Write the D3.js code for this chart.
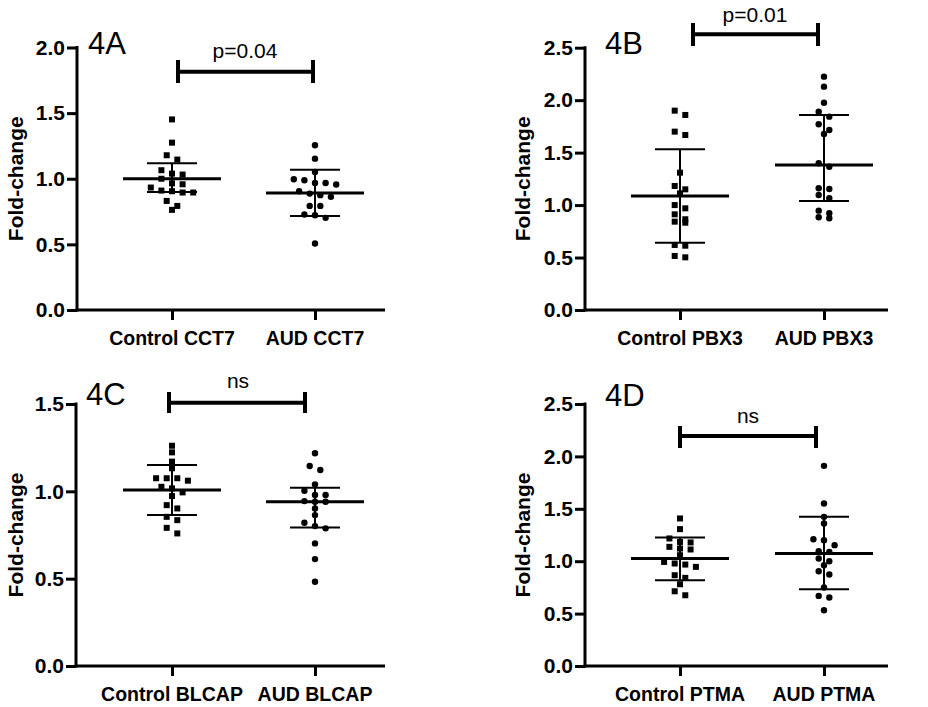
<!DOCTYPE html>
<html>
<head>
<meta charset="utf-8">
<script src="https://cdn.jsdelivr.net/npm/d3@7"></script>
<style>
  html, body { margin: 0; padding: 0; background: #fff; }
  svg { display: block; }
  text { font-family: "Liberation Sans", Arial, sans-serif; fill: #000; }
</style>
</head>
<body>
<svg id="chart" width="928" height="707"></svg>
<script>
// ---------------- DATA ----------------
const panelIds = ["4A", "4B", "4C", "4D"];
const categoriesA = ["Control CCT7", "AUD CCT7"];
const categoriesB = ["Control PBX3", "AUD PBX3"];
const categoriesC = ["Control BLCAP", "AUD BLCAP"];
const categoriesD = ["Control PTMA", "AUD PTMA"];
const pLabels = ["p=0.04", "p=0.01", "ns", "ns"];
const yMaxes = [2.0, 2.5, 1.5, 2.5];
const yTicksTop = [0, 0.5, 1.0, 1.5, 2.0];
const yTicksB = [0, 0.5, 1.0, 1.5, 2.0, 2.5];
const yTicksC = [0, 0.5, 1.0, 1.5];
const yTicksD = [0, 0.5, 1.0, 1.5, 2.0, 2.5];
const yLabel = "Fold-change";

const controlCCT7 = [1.452, 1.275, 1.179, 1.146, 1.065, 1.039, 1.032, 1.0, 0.965, 0.958, 0.933, 0.91, 0.905, 0.895, 0.895, 0.831, 0.793, 0.763];
const audCCT7 = [1.255, 1.153, 1.052, 0.996, 0.989, 0.968, 0.968, 0.956, 0.905, 0.887, 0.875, 0.862, 0.793, 0.793, 0.728, 0.722, 0.702, 0.507];
const controlPBX3 = [1.90, 1.859, 1.70, 1.668, 1.309, 1.182, 1.15, 1.112, 1.0, 0.969, 0.912, 0.865, 0.842, 0.832, 0.62, 0.613, 0.515, 0.502];
const audPBX3 = [2.224, 2.129, 1.976, 1.89, 1.843, 1.77, 1.716, 1.678, 1.398, 1.366, 1.16, 1.153, 1.096, 1.065, 0.947, 0.922, 0.884, 0.874];
const controlBLCAP = [1.261, 1.223, 1.170, 1.132, 1.075, 1.075, 1.075, 1.061, 1.026, 1.017, 0.994, 0.973, 0.921, 0.902, 0.854, 0.835, 0.791, 0.759];
const audBLCAP = [1.218, 1.145, 1.122, 1.04, 1.003, 0.979, 0.979, 0.944, 0.94, 0.94, 0.902, 0.864, 0.82, 0.801, 0.788, 0.702, 0.612, 0.482];
const controlPTMA = [1.408, 1.306, 1.217, 1.184, 1.179, 1.137, 1.121, 1.112, 1.057, 0.993, 0.978, 0.968, 0.946, 0.866, 0.841, 0.78, 0.713, 0.675];
const audPTMA = [1.91, 1.551, 1.423, 1.36, 1.21, 1.2, 1.153, 1.095, 1.089, 1.026, 1.0, 0.962, 0.904, 0.873, 0.749, 0.669, 0.653, 0.532];

// summary lines [control, AUD]
const centerA = [1.0, 0.891], lowA = [0.899, 0.716], highA = [1.119, 1.068];
const centerB = [1.087, 1.382], lowB = [0.642, 1.039], highB = [1.532, 1.859];
const centerC = [1.007, 0.94], lowC = [0.864, 0.793], highC = [1.151, 1.021];
const centerD = [1.026, 1.073], lowD = [0.818, 0.733], highD = [1.226, 1.423];

// ---------------- LAYOUT ----------------
const layouts = [
  { axisX: 77, xEnd: 385, y0: 310, yTop: 47.5, cats: [172, 315], br: { y: 71.7, x1: 178, x2: 313, t: 60, b: 83 }, pX: 245, pY: 58, lX: 88, lY: 54, ylX: 16 },
  { axisX: 585, xEnd: 888, y0: 310, yTop: 47.7, cats: [680, 824], br: { y: 34.3, x1: 693, x2: 818, t: 23, b: 46 }, pX: 755, pY: 21.7, lX: 605, lY: 54, ylX: 522.5 },
  { axisX: 76, xEnd: 385, y0: 666, yTop: 404, cats: [172, 315], br: { y: 402.7, x1: 169, x2: 305, t: 392, b: 413 }, pX: 238, pY: 388, lX: 86, lY: 405, ylX: 15.7 },
  { axisX: 585, xEnd: 888, y0: 666, yTop: 404, cats: [680, 824], br: { y: 436, x1: 680, x2: 816, t: 426, b: 448 }, pX: 748, pY: 423, lX: 605, lY: 406, ylX: 522.5 }
];

const panelCats = [categoriesA, categoriesB, categoriesC, categoriesD];
const panelTicks = [yTicksTop, yTicksB, yTicksC, yTicksD];
const panelValues = [[controlCCT7, audCCT7], [controlPBX3, audPBX3], [controlBLCAP, audBLCAP], [controlPTMA, audPTMA]];
const panelCenter = [centerA, centerB, centerC, centerD];
const panelLow = [lowA, lowB, lowC, lowD];
const panelHigh = [highA, highB, highC, highD];

const svg = d3.select("#chart");
const COL = 5.3, BIN = 6, SQ = 6, R = 3.2;

function swarm(values, y, cx) {
  const pts = values.map(v => ({ v, y: y(v) })).sort((a, b) => a.y - b.y);
  const rows = [];
  let cur = null;
  pts.forEach(p => {
    if (!cur || p.y - cur[0].y >= BIN) { cur = [p]; rows.push(cur); }
    else cur.push(p);
  });
  rows.forEach(r => {
    const n = r.length;
    r.forEach((p, i) => { p.x = cx + (i - (n - 1) / 2) * 2 * COL; });
  });
  return pts;
}

panelIds.forEach((id, pi) => {
  const L = layouts[pi];
  const g = svg.append("g");
  const y = d3.scaleLinear().domain([0, yMaxes[pi]]).range([L.y0, L.yTop]);
  const x = d3.scalePoint().domain(panelCats[pi]).range(L.cats);

  // y axis
  const yAxis = d3.axisLeft(y).tickValues(panelTicks[pi]).tickFormat(d3.format(".1f")).tickSize(10).tickSizeOuter(0);
  const ya = g.append("g").attr("transform", `translate(${L.axisX},0)`).call(yAxis);
  ya.select(".domain").remove();
  ya.selectAll(".tick line").attr("stroke", "#000").attr("stroke-width", 3);
  ya.selectAll(".tick text").attr("x", -12).attr("font-size", 21).attr("font-weight", "bold")
    .attr("font-family", "Liberation Sans, Arial, sans-serif").attr("fill", "#000");
  g.append("line").attr("x1", L.axisX).attr("x2", L.axisX).attr("y1", L.yTop - 1.5).attr("y2", L.y0 + 1.5)
    .attr("stroke", "#000").attr("stroke-width", 3);

  // x axis
  const xAxis = d3.axisBottom(x).tickSize(10).tickSizeOuter(0).tickFormat("");
  const xa = g.append("g").attr("transform", `translate(0,${L.y0})`).call(xAxis);
  xa.select(".domain").remove();
  xa.selectAll(".tick line").attr("stroke", "#000").attr("stroke-width", 3);
  g.append("line").attr("x1", L.axisX - 1.5).attr("x2", L.xEnd).attr("y1", L.y0).attr("y2", L.y0)
    .attr("stroke", "#000").attr("stroke-width", 3);
  g.selectAll(".xlab").data(panelCats[pi]).join("text")
    .attr("x", d => x(d)).attr("y", L.y0 + 35)
    .attr("text-anchor", "middle").attr("font-size", 19.5).attr("font-weight", "bold").text(d => d);

  // y label
  g.append("text").attr("transform", `translate(${L.ylX + 7},${(L.y0 + L.yTop) / 2}) rotate(-90)`)
    .attr("text-anchor", "middle").attr("font-size", 21).attr("font-weight", "bold").text(yLabel);

  // panel letter
  g.append("text").attr("x", L.lX).attr("y", L.lY).attr("font-size", 31).text(id);

  // points
  panelValues[pi].forEach((vals, ci) => {
    const cx = x(panelCats[pi][ci]);
    const pts = swarm(vals, y, cx);
    if (ci === 0) {
      g.selectAll(null).data(pts).join("rect")
        .attr("x", d => d.x - SQ / 2).attr("y", d => d.y - SQ / 2)
        .attr("width", SQ).attr("height", SQ).attr("fill", "#000");
    } else {
      g.selectAll(null).data(pts).join("circle")
        .attr("cx", d => d.x).attr("cy", d => d.y).attr("r", R).attr("fill", "#000");
    }
    // summary
    const c = panelCenter[pi][ci], lo = panelLow[pi][ci], hi = panelHigh[pi][ci];
    g.append("line").attr("x1", cx).attr("x2", cx).attr("y1", y(hi)).attr("y2", y(lo)).attr("stroke", "#000").attr("stroke-width", 2);
    [lo, hi].forEach(v => g.append("line").attr("x1", cx - 25).attr("x2", cx + 25).attr("y1", y(v)).attr("y2", y(v))
      .attr("stroke", "#000").attr("stroke-width", 2));
    g.append("line").attr("x1", cx - 49).attr("x2", cx + 49).attr("y1", y(c)).attr("y2", y(c))
      .attr("stroke", "#000").attr("stroke-width", 3);
  });

  // bracket
  const b = L.br;
  g.append("line").attr("x1", b.x1).attr("x2", b.x2).attr("y1", b.y).attr("y2", b.y).attr("stroke", "#000").attr("stroke-width", 4);
  [b.x1, b.x2].forEach(xx => g.append("line").attr("x1", xx).attr("x2", xx).attr("y1", b.t).attr("y2", b.b)
    .attr("stroke", "#000").attr("stroke-width", 4));
  g.append("text").attr("x", L.pX).attr("y", L.pY).attr("text-anchor", "middle").attr("font-size", 21).text(pLabels[pi]);
});
</script>
</body>
</html>
